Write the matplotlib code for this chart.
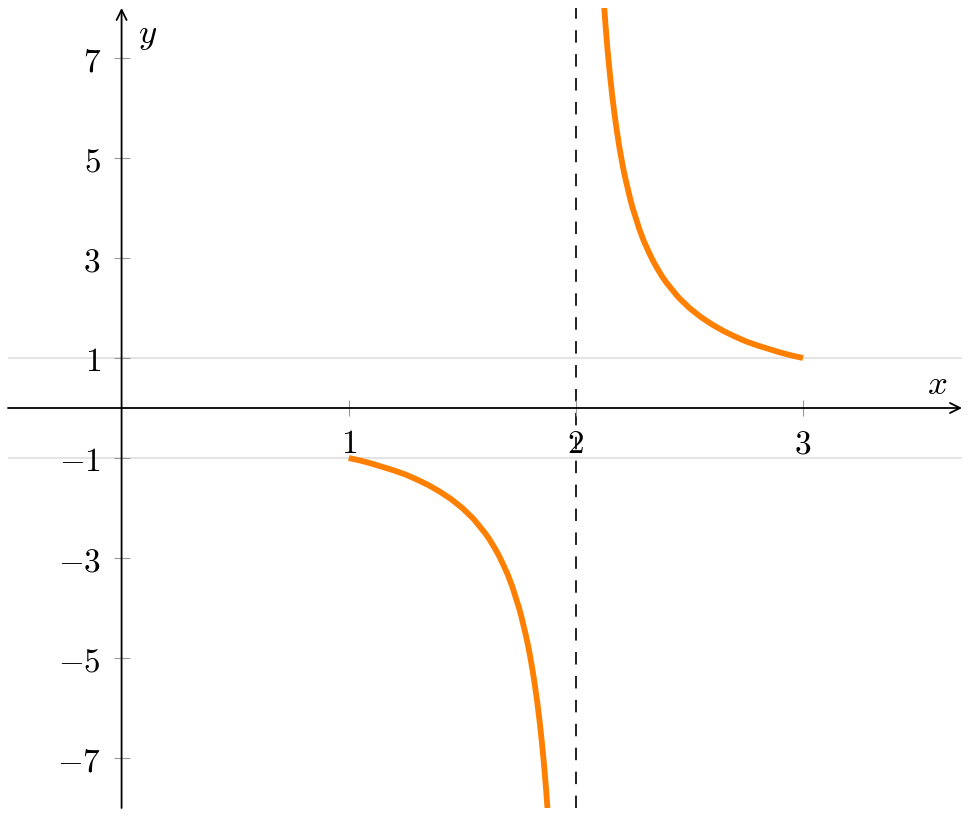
import matplotlib
matplotlib.use("Agg")
import matplotlib.pyplot as plt

plt.rcParams['mathtext.fontset'] = 'cm'

# Lower branch (left of the asymptote)
x_left = [1.00, 1.05, 1.10, 1.15, 1.20, 1.25, 1.30, 1.35, 1.40, 1.45, 1.50, 1.55,
          1.60, 1.62, 1.64, 1.66, 1.68, 1.70, 1.72, 1.75, 1.76, 1.78, 1.79, 1.80,
          1.81, 1.82, 1.83, 1.84, 1.85, 1.855, 1.86, 1.865, 1.87, 1.875]
y_left = [-1.00, -1.05, -1.11, -1.18, -1.25, -1.33, -1.43, -1.54, -1.67, -1.82, -2.00, -2.22,
          -2.50, -2.63, -2.78, -2.94, -3.13, -3.33, -3.57, -4.00, -4.17, -4.55, -4.76, -5.00,
          -5.26, -5.56, -5.88, -6.25, -6.67, -6.90, -7.14, -7.41, -7.69, -8.00]
# Upper branch (right of the asymptote)
x_right = [2.125, 2.13, 2.135, 2.14, 2.145, 2.15, 2.16, 2.17, 2.18, 2.19, 2.20, 2.21,
           2.22, 2.24, 2.25, 2.28, 2.30, 2.32, 2.34, 2.36, 2.38, 2.40,
           2.45, 2.50, 2.55, 2.60, 2.65, 2.70, 2.75, 2.80, 2.85, 2.90, 2.95, 3.00]
y_right = [8.00, 7.69, 7.41, 7.14, 6.90, 6.67, 6.25, 5.88, 5.56, 5.26, 5.00, 4.76,
           4.55, 4.17, 4.00, 3.57, 3.33, 3.13, 2.94, 2.78, 2.63, 2.50,
           2.22, 2.00, 1.82, 1.67, 1.54, 1.43, 1.33, 1.25, 1.18, 1.11, 1.05, 1.00]

asymptote_x = 2
grid_y = [1, -1]
x_ticks = [1, 2, 3]
y_ticks = [-7, -5, -3, -1, 1, 3, 5, 7]
x_range = (-0.5, 3.7)
y_range = (-8, 8)

W, H = 972, 816
fig = plt.figure(figsize=(W / 100, H / 100), dpi=100)
ax = fig.add_axes([8 / W, 8 / H, (962 - 8) / W, (808 - 8) / H])
ax.set_xlim(*x_range)
ax.set_ylim(*y_range)

for s in ['top', 'right']:
    ax.spines[s].set_visible(False)
ax.spines['left'].set_position(('data', 0))
ax.spines['bottom'].set_position(('data', 0))
ax.spines['left'].set_visible(False)
ax.spines['bottom'].set_visible(False)

ax.set_xticks(x_ticks)
ax.set_xticklabels([f'${v}$' for v in x_ticks])
ax.set_yticks(y_ticks)
ax.set_yticklabels([f'${v}$' if v >= 0 else f'$-{abs(v)}$' for v in y_ticks])
ax.tick_params(axis='both', direction='inout', length=12, width=0.8,
               color='#999999', labelsize=24)
ax.tick_params(axis='x', pad=8)
ax.tick_params(axis='y', pad=9)

for gy in grid_y:
    ax.axhline(gy, color='#dcdcdc', lw=1.1, zorder=0)

ax.axvline(asymptote_x, color='#222222', lw=1.4, dashes=(6.4, 5.9), zorder=1)

# axes with arrows
ax.annotate('', xy=(x_range[1], 0), xytext=(x_range[0], 0),
            arrowprops=dict(arrowstyle='->', color='black', lw=1.3,
                            shrinkA=0, shrinkB=0, mutation_scale=18),
            annotation_clip=False, zorder=2)
ax.annotate('', xy=(0, y_range[1]), xytext=(0, y_range[0]),
            arrowprops=dict(arrowstyle='->', color='black', lw=1.3,
                            shrinkA=0, shrinkB=0, mutation_scale=18),
            annotation_clip=False, zorder=2)

ax.plot(x_left, y_left, color='#ff7f00', lw=4.2, solid_capstyle='butt',
        solid_joinstyle='round', zorder=3)
ax.plot(x_right, y_right, color='#ff7f00', lw=4.2, solid_capstyle='butt',
        solid_joinstyle='round', zorder=3)

ax.text(3.59, 0.48, '$x$', fontsize=25, ha='center', va='center')
ax.text(0.115, 7.46, '$y$', fontsize=25, ha='center', va='center')

fig.savefig('out.png', dpi=100)
